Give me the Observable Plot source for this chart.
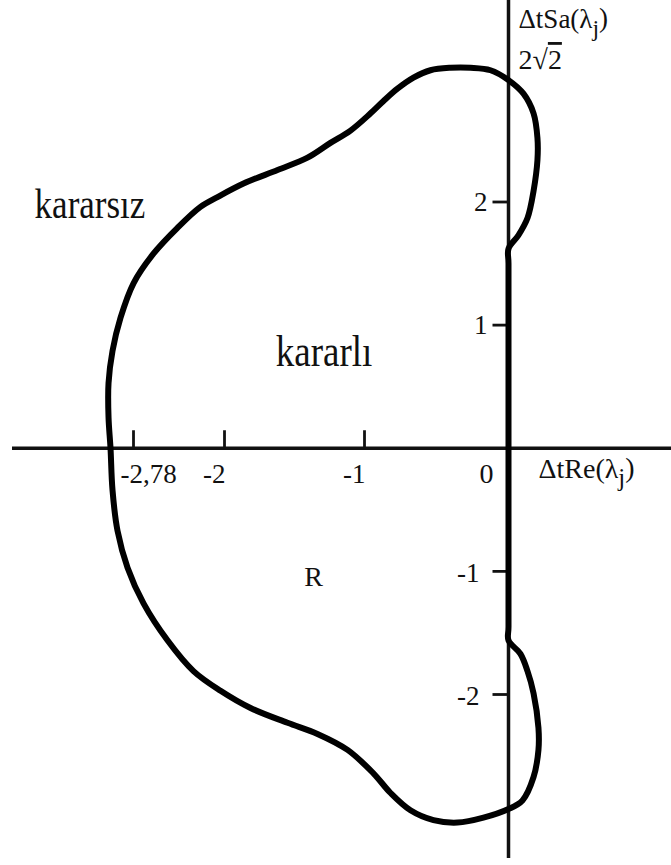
<!DOCTYPE html>
<html>
<head>
<meta charset="utf-8">
<script src="https://cdn.jsdelivr.net/npm/d3@7"></script>
<script src="https://cdn.jsdelivr.net/npm/@observablehq/plot@0.6"></script>
<style>
  body { margin: 0; background: #fff; }
</style>
</head>
<body>
<div id="chart"></div>
<script>
// Boundary of the stability region R in the (ΔtRe(λj), ΔtSa(λj)) plane,
// traced counter-clockwise from the upper crossing of the imaginary axis.
const boundaryRe = [
  0.00, -0.125, -0.264, -0.403, -0.542, -0.660, -0.771, -0.868, -0.958, -1.100,
  -1.243, -1.407, -1.621, -1.864, -2.060, -2.206, -2.403, -2.609, -2.780, -2.891,
  -2.960, -2.994, -2.994, -2.977, -2.960, -2.917, -2.831, -2.694, -2.489, -2.266,
  -2.034, -1.814, -1.550, -1.336, -1.121, -0.938, -0.819, -0.681, -0.521, -0.354,
  -0.174, 0.00,
  0.097, 0.174, 0.208, 0.208, 0.174, 0.132, 0.083, 0.00,
  0.00, 0.00,
  0.00, 0.069, 0.132, 0.174, 0.201, 0.201, 0.174, 0.104
];
const boundaryIm = [
  2.99, 3.07, 3.09, 3.09, 3.07, 3.01, 2.92, 2.82, 2.72, 2.58,
  2.48, 2.36, 2.26, 2.15, 2.04, 1.96, 1.79, 1.58, 1.34, 1.06,
  0.79, 0.53, 0.25, 0.00, -0.34, -0.67, -0.97, -1.26, -1.56, -1.81,
  -1.97, -2.11, -2.23, -2.32, -2.45, -2.64, -2.80, -2.94, -3.02, -3.04,
  -3.00, -2.93,
  -2.86, -2.67, -2.45, -2.27, -1.99, -1.81, -1.67, -1.56,
  -1.45, 1.50,
  1.62, 1.73, 1.87, 2.09, 2.34, 2.52, 2.72, 2.88
];

// Axis ticks
const xTickValues = [-2.78, -2, -1];
const xTickLabels = ["-2,78", "-2", "-1"];
const yTickValues = [2, 1, -1, -2];
const yTickLabels = ["2", "1", "-1", "-2"];

const boundary = boundaryRe.map((re, i) => ({re, im: boundaryIm[i]}));

const font = "'Liberation Serif', 'Times New Roman', serif";
const ink = "#111";

// The real axis is drawn piecewise: its graduations are not evenly spaced.
const warpX = d3.scaleLinear().domain([-2.78, -2, -1, 0]).range([133, 224, 364, 508]);

// Short tick strokes drawn as custom dot symbols
const tickUp = {draw(context) { context.moveTo(0, 0); context.lineTo(0, -18); }};
const tickLeft = {draw(context) { context.moveTo(0, 0); context.lineTo(-16, 0); }};

const xLabel = d => xTickLabels[xTickValues.indexOf(d)];
const yLabel = d => yTickLabels[yTickValues.indexOf(d)];

const chart = Plot.plot({
  width: 671,
  height: 865,
  marginLeft: 12,
  marginRight: 0,
  marginTop: 0,
  marginBottom: 7,
  style: {fontFamily: font, background: "#fff", color: ink},
  x: {type: "linear", transform: warpX, domain: [0, 671], range: [0, 671], axis: null},
  y: {domain: [-2, 2], range: [694, 201.5], axis: null},
  marks: [
    // coordinate axes
    Plot.ruleY([0], {stroke: ink, strokeWidth: 3.5}),
    Plot.ruleX([0], {stroke: ink, strokeWidth: 3.5}),
    Plot.dot(xTickValues, {x: d => d, y: 0, symbol: tickUp, r: 1, fill: "none", stroke: ink, strokeWidth: 2.8}),
    Plot.dot(yTickValues, {x: 0, y: d => d, symbol: tickLeft, r: 1, fill: "none", stroke: ink, strokeWidth: 2.8}),

    // x tick labels
    Plot.text(xTickValues, {filter: d => d === -2.78, x: d => d, y: 0, text: xLabel,
      textAnchor: "start", lineAnchor: "bottom", dx: -13, dy: 35, fontSize: 27, fill: ink}),
    Plot.text(xTickValues, {filter: d => d !== -2.78, x: d => d, y: 0, text: xLabel,
      textAnchor: "end", lineAnchor: "bottom", dx: 1, dy: 35, fontSize: 27, fill: ink}),
    Plot.text(["0"], {x: 0, y: 0, text: d => d,
      textAnchor: "end", lineAnchor: "bottom", dx: -15, dy: 35, fontSize: 28, fill: ink}),

    // y tick labels
    Plot.text(yTickValues, {filter: d => d > 0, x: 0, y: d => d, text: yLabel,
      textAnchor: "end", lineAnchor: "middle", dx: -21, dy: 0, fontSize: 27, fill: ink}),
    Plot.text(yTickValues, {filter: d => d < 0, x: 0, y: d => d, text: yLabel,
      textAnchor: "end", lineAnchor: "middle", dx: -29, dy: 2, fontSize: 27, fill: ink}),

    // axis titles
    Plot.text(["ΔtSa(λj)"], {x: 0, y: 3.41, text: d => d, textAnchor: "start", lineAnchor: "bottom",
      dx: 10, fontSize: 27, fill: ink}),
    Plot.text(["2√2"], {x: 0, y: 3.08, text: d => d, textAnchor: "start", lineAnchor: "bottom",
      dx: 10, fontSize: 28, fill: ink}),
    Plot.text(["ΔtRe(λj)"], {x: 0, y: 0, text: d => d, textAnchor: "start", lineAnchor: "bottom",
      dx: 30, dy: 30, fontSize: 28, fill: ink}),

    // region names
    Plot.text(["kararsız"], {x: -3.153, y: 1.866, text: d => d, textAnchor: "middle", lineAnchor: "bottom",
      fontSize: 35, fill: ink}),
    Plot.text(["kararlı"], {x: -1.289, y: 0.672, text: d => d, textAnchor: "middle", lineAnchor: "bottom",
      fontSize: 37, fill: ink}),
    Plot.text(["R"], {x: -1.364, y: -1.115, text: d => d, textAnchor: "middle", lineAnchor: "bottom",
      fontSize: 28, fill: ink}),

    // stability boundary
    Plot.line(boundary, {x: "re", y: "im", curve: "catmull-rom-closed", stroke: "#000",
      strokeWidth: 6, strokeLinejoin: "round"})
  ]
});

document.getElementById("chart").append(chart);

// Typographic touches: subscript j, the radical's vinculum, taller region names
d3.select(chart).selectAll("text").each(function () {
  const t = this.textContent;
  const sel = d3.select(this);
  if (t.endsWith("(λj)")) {
    sel.text(null);
    sel.append("tspan").text(t.slice(0, -2));
    sel.append("tspan").attr("dy", "0.32em").attr("font-size", "0.88em").text("j");
    sel.append("tspan").attr("dy", "-0.32em").text(")");
  } else if (t === "2√2") {
    sel.text(null);
    sel.append("tspan").text("2√");
    sel.append("tspan").style("text-decoration", "overline").text("2");
  } else if (t === "kararsız" || t === "kararlı") {
    const tr = this.getAttribute("transform") || "";
    this.setAttribute("transform", tr + " scale(1,1.18)");
  }
});
</script>
</body>
</html>
